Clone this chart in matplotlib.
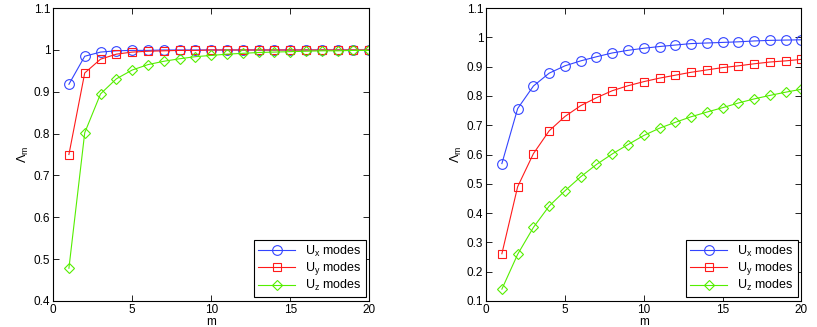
import matplotlib
matplotlib.use('Agg')
import matplotlib.pyplot as plt

m = list(range(1, 21))

# left panel
left_ux = [0.918, 0.985, 0.995, 0.998, 0.999, 0.999, 1.0, 1.0, 1.0, 1.0,
           1.0, 1.0, 1.0, 1.0, 1.0, 1.0, 1.0, 1.0, 1.0, 1.0]
left_uy = [0.750, 0.945, 0.978, 0.990, 0.995, 0.997, 0.998, 0.999, 0.999, 1.0,
           1.0, 1.0, 1.0, 1.0, 1.0, 1.0, 1.0, 1.0, 1.0, 1.0]
left_uz = [0.478, 0.802, 0.895, 0.931, 0.952, 0.965, 0.973, 0.979, 0.984, 0.987,
           0.990, 0.992, 0.994, 0.995, 0.996, 0.997, 0.998, 0.998, 0.999, 0.999]

# right panel
right_ux = [0.569, 0.757, 0.834, 0.878, 0.903, 0.920, 0.934, 0.947, 0.956, 0.963,
            0.969, 0.974, 0.979, 0.981, 0.983, 0.985, 0.988, 0.990, 0.991, 0.992]
right_uy = [0.261, 0.490, 0.603, 0.681, 0.730, 0.767, 0.794, 0.818, 0.835, 0.849,
            0.861, 0.871, 0.881, 0.889, 0.897, 0.903, 0.910, 0.916, 0.920, 0.925]
right_uz = [0.140, 0.259, 0.351, 0.424, 0.476, 0.524, 0.566, 0.602, 0.634, 0.665,
            0.690, 0.710, 0.729, 0.745, 0.760, 0.776, 0.790, 0.802, 0.813, 0.823]

labels = ['U$_x$ modes', 'U$_y$ modes', 'U$_z$ modes']
colors = ['#3344ff', '#ff1a1a', '#55ee00']
markers = ['o', 's', 'D']
msizes = [7, 6, 5]

plt.rcParams['font.family'] = ['Liberation Sans', 'DejaVu Sans']
plt.rcParams['mathtext.fontset'] = 'custom'
plt.rcParams['mathtext.rm'] = 'Liberation Sans'
plt.rcParams['mathtext.it'] = 'Liberation Sans'

fig = plt.figure(figsize=(8.17, 3.27), dpi=100)
ax1 = fig.add_axes([0.065, 0.080, 0.387, 0.895])
ax2 = fig.add_axes([0.595, 0.080, 0.386, 0.895])

panels = [
    (ax1, [left_ux, left_uy, left_uz], (0.4, 1.1), [0.4, 0.5, 0.6, 0.7, 0.8, 0.9, 1.0, 1.1]),
    (ax2, [right_ux, right_uy, right_uz], (0.1, 1.1), [0.1, 0.2, 0.3, 0.4, 0.5, 0.6, 0.7, 0.8, 0.9, 1.0, 1.1]),
]

for ax, series, ylim, yticks in panels:
    for vals, c, mk, ms, lab in zip(series, colors, markers, msizes, labels):
        ax.plot(m, vals, color=c, marker=mk, markersize=ms,
                markerfacecolor='none', markeredgewidth=0.8, linewidth=0.8, label=lab)
    ax.set_xlim(0, 20)
    ax.set_ylim(*ylim)
    ax.set_xticks([0, 5, 10, 15, 20])
    ax.set_yticks(yticks)
    ax.set_yticklabels(['1' if abs(t - 1) < 1e-9 else f'{t:g}' for t in yticks])
    ax.tick_params(direction='in', top=True, right=True, labelsize=8.5, length=4, width=0.6, pad=2)
    for s in ax.spines.values():
        s.set_linewidth(0.8)
    ax.set_xlabel('m', fontsize=8.5, labelpad=0)
    ax.set_ylabel(r'$\Lambda_m$', fontsize=9, labelpad=2)
    leg = ax.legend(loc='lower right', fontsize=9, fancybox=False, framealpha=1,
                    edgecolor='black', borderaxespad=0.3, handlelength=3,
                    labelspacing=0.1, borderpad=0.3)
    leg.get_frame().set_linewidth(0.8)

fig.savefig('out.png', dpi=100)
